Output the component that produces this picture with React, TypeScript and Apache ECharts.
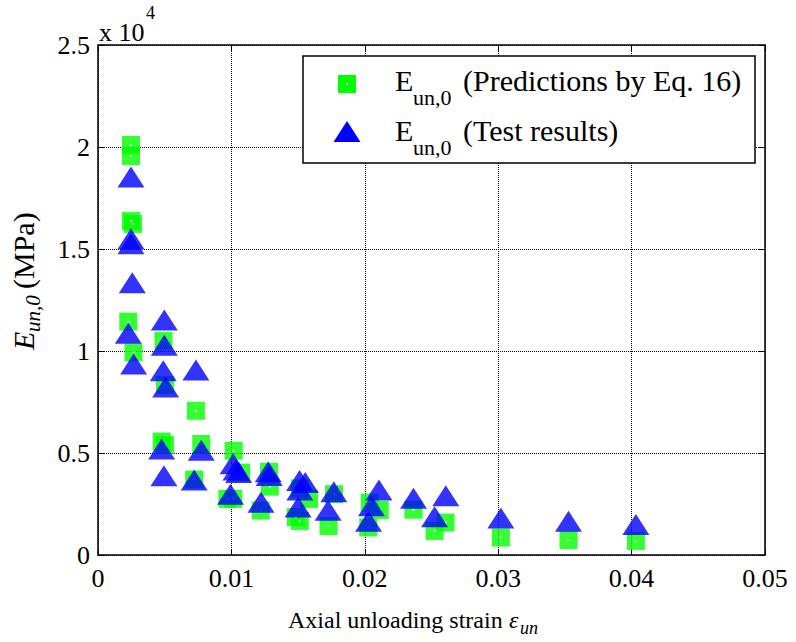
import React, { useEffect, useRef } from "react";
import * as echarts from "echarts";

// Predictions by Eq. 16 (squares)
const predX = [0.00247, 0.00247, 0.00247, 0.00262, 0.00227, 0.00266, 0.00491, 0.00502, 0.00734, 0.00477, 0.00502, 0.00774, 0.00721, 0.01017, 0.01073, 0.0097, 0.01014, 0.01282, 0.01288, 0.0122, 0.01483, 0.01513, 0.01513, 0.01582, 0.01769, 0.01728, 0.02037, 0.02112, 0.02026, 0.02365, 0.02523, 0.02605, 0.0302, 0.03527, 0.04032];
const predY = [20100, 19560, 16370, 16230, 11440, 9930, 10500, 8330, 7070, 5560, 5390, 5440, 3700, 5110, 4040, 2750, 2750, 4080, 3350, 2180, 1860, 1670, 3270, 2750, 2980, 1420, 2570, 2210, 1350, 2220, 1180, 1590, 860, 735, 690];

// Test results (triangles)
const testX = [0.00247, 0.00247, 0.00247, 0.00257, 0.00227, 0.00267, 0.00497, 0.00497, 0.00489, 0.00507, 0.00734, 0.00477, 0.00774, 0.00494, 0.00721, 0.01013, 0.01055, 0.01034, 0.00993, 0.01276, 0.01283, 0.01222, 0.01511, 0.01554, 0.01513, 0.015, 0.01768, 0.01725, 0.02106, 0.0205, 0.02028, 0.02365, 0.02523, 0.02607, 0.0302, 0.03527, 0.04032];
const testY = [18530, 15500, 15260, 13340, 10870, 9360, 11520, 10280, 9030, 8240, 9070, 5190, 5130, 3880, 3680, 4470, 4040, 4170, 2980, 4080, 3900, 2590, 3650, 3550, 3190, 2350, 3100, 2190, 3190, 2410, 1660, 2780, 1880, 2900, 1810, 1660, 1490];

const xTicks = { min: 0, max: 0.05, interval: 0.01 };
const yTicks = { min: 0, max: 25000, interval: 5000 };

const FONT = "Liberation Serif, serif";

export default function App() {
  const ref = useRef<HTMLDivElement>(null);
  useEffect(() => {
    if (!ref.current) return;
    const chart = echarts.init(ref.current, null, { renderer: "svg" });
    const pred = predX.map((x, i) => [x, predY[i]]);
    const test = testX.map((x, i) => [x, testY[i]]);
    const gridLine = { show: true, lineStyle: { color: "#000", width: 1, type: [1, 1] as any } };
    const label = { color: "#000", fontFamily: FONT, fontSize: 26 };
    const txt = (x: number, y: number, text: string, size: number, italic = false, z = 11) => ({
      type: "text", x, y, z,
      style: { text, fontFamily: FONT, fontSize: size, fontStyle: italic ? "italic" : "normal", fill: "#000", verticalAlign: "middle" },
    });
    chart.setOption({
      animation: false,
      backgroundColor: "#fff",
      grid: { left: 98, right: 31, top: 45, bottom: 87, show: false },
      xAxis: [
        {
          type: "value", ...xTicks, position: "bottom",
          axisLine: { show: true, onZero: false, lineStyle: { color: "#000", width: 1.5 } },
          axisTick: { show: true, inside: true, length: 6, lineStyle: { color: "#000" } },
          axisLabel: { ...label, margin: 10, formatter: (v: number) => (v === 0 ? "0" : String(+v.toFixed(2))) },
          splitLine: gridLine,
        },
        {
          type: "value", ...xTicks, position: "top",
          axisLine: { show: true, onZero: false, lineStyle: { color: "#000", width: 1.5 } },
          axisTick: { show: true, inside: true, length: 6, lineStyle: { color: "#000" } },
          axisLabel: { show: false }, splitLine: { show: false },
        },
      ],
      yAxis: [
        {
          type: "value", ...yTicks, position: "left",
          axisLine: { show: true, onZero: false, lineStyle: { color: "#000", width: 1.5 } },
          axisTick: { show: true, inside: true, length: 6, lineStyle: { color: "#000" } },
          axisLabel: { ...label, margin: 8, formatter: (v: number) => String(v / 10000) },
          splitLine: gridLine,
        },
        {
          type: "value", ...yTicks, position: "right",
          axisLine: { show: true, onZero: false, lineStyle: { color: "#000", width: 1.5 } },
          axisTick: { show: true, inside: true, length: 6, lineStyle: { color: "#000" } },
          axisLabel: { show: false }, splitLine: { show: false },
        },
      ],
      series: [
        {
          name: "pred", type: "scatter", data: pred, symbol: "rect", symbolSize: 18,
          itemStyle: { color: "#00ff00" }, z: 2,
        },
        {
          name: "predDot", type: "scatter", data: pred, symbol: "rect", symbolSize: 2,
          itemStyle: { color: "#ffffff" }, z: 3,
        },
        {
          name: "test", type: "scatter", data: test, symbol: "triangle", symbolSize: [27, 21],
          itemStyle: { color: "#0000ff" }, z: 4,
        },
      ],
      graphic: [
        // x 10^4
        txt(99, 32, "x 10", 26),
        txt(146, 13, "4", 18),
        // legend box
        { type: "rect", z: 10, shape: { x: 303, y: 56, width: 452, height: 107 }, style: { fill: "#fff", stroke: "#000", lineWidth: 1.5 } },
        { type: "rect", z: 11, shape: { x: 338, y: 75, width: 18, height: 18 }, style: { fill: "#00ff00" } },
        { type: "rect", z: 12, shape: { x: 346, y: 83, width: 2, height: 2 }, style: { fill: "#fff" } },
        { type: "polygon", z: 11, shape: { points: [[333.5, 142], [360.5, 142], [347, 121]] }, style: { fill: "#0000ff" } },
        txt(395, 80, "E", 30),
        txt(413, 97, "un,0", 22),
        txt(463, 80, "(Predictions by Eq. 16)", 30),
        txt(395, 130, "E", 30),
        txt(413, 147, "un,0", 22),
        txt(463, 130, "(Test results)", 30),
        // x title
        txt(288, 620, "Axial unloading strain ", 24, false, 5),
        txt(509, 620, "\u03b5", 24, true, 5),
        txt(520, 628, "un", 18, true, 5),
        // y title (rotated)
        {
          type: "group", x: 23, y: 350, rotation: Math.PI / 2,
          children: [
            txt(0, 0, "E", 30, true),
            txt(18, 10, "un,0", 21, true),
            txt(61, 0, "(MPa)", 30),
          ],
        },
      ],
    });
    return () => chart.dispose();
  }, []);
  return <div ref={ref} style={{ position: "fixed", left: 0, top: 0, width: 796, height: 642, background: "#fff" }} />;
}
